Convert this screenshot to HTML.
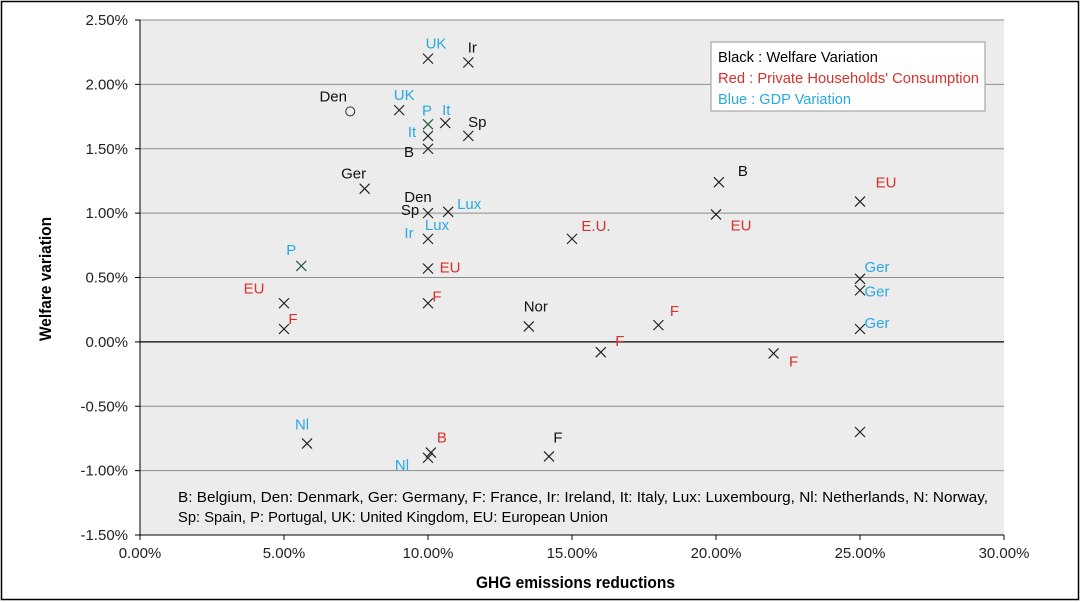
<!DOCTYPE html>
<html><head><meta charset="utf-8">
<style>
body{margin:0;background:#fff;}
svg{display:block;font-family:"Liberation Sans Narrow","Liberation Sans",sans-serif;}
</style></head>
<body>
<svg id="chart" width="1081" height="602" viewBox="0 0 1081 602">
<rect x="1.5" y="1.5" width="1077" height="598" fill="#fff" stroke="#000" stroke-width="1.5"/>
<rect x="140" y="20" width="864" height="515" fill="#ececec"/>
<g id="grid"></g>
<g id="axes"></g>
<g id="marks"></g>
<rect x="711" y="42" width="274" height="69" fill="#fff" stroke="#999"/>
<text x="718" y="62" font-size="15" fill="#000" textLength="160" lengthAdjust="spacingAndGlyphs">Black : Welfare Variation</text>
<text x="718" y="83" font-size="15" fill="#d8302b" textLength="261" lengthAdjust="spacingAndGlyphs">Red : Private Households' Consumption</text>
<text x="718" y="104" font-size="15" fill="#27a9e1" textLength="133" lengthAdjust="spacingAndGlyphs">Blue : GDP Variation</text>
<text x="178" y="502" font-size="14.5" textLength="810" lengthAdjust="spacingAndGlyphs">B: Belgium, Den: Denmark, Ger: Germany, F: France, Ir: Ireland, It: Italy, Lux: Luxembourg, Nl: Netherlands, N: Norway,</text>
<text x="178" y="522" font-size="14.5" textLength="430" lengthAdjust="spacingAndGlyphs">Sp: Spain, P: Portugal, UK: United Kingdom, EU: European Union</text>
<text x="476" y="588" font-size="17" font-weight="bold" textLength="199" lengthAdjust="spacingAndGlyphs">GHG emissions reductions</text>
<text transform="translate(51,341) rotate(-90)" font-size="17" font-weight="bold" textLength="124" lengthAdjust="spacingAndGlyphs">Welfare variation</text>
</svg>
<script>
const xTicks=[0,5,10,15,20,25,30];
const yTicks=[2.5,2.0,1.5,1.0,0.5,0,-0.5,-1.0,-1.5];
const ptX=[10,11.4,7.3,9.0,10,10.6,10,11.4,10,7.8,10,10.7,10,5.6,10,5.0,5.0,10,13.5,15.0,16.0,18.0,20.1,20.0,22.0,25,25,25,25,25,5.8,10.1,10,14.2];
const ptY=[2.20,2.17,1.79,1.80,1.69,1.70,1.60,1.60,1.50,1.19,1.00,1.01,0.80,0.59,0.57,0.30,0.10,0.30,0.12,0.80,-0.08,0.13,1.24,0.99,-0.09,1.09,0.49,0.40,0.10,-0.70,-0.79,-0.86,-0.90,-0.89];
const ptLabel=["UK","Ir","Den","UK","P","It","It","Sp","B","Ger","Den|Sp","Lux","Ir|Lux","P","EU","EU","F","F","Nor","E.U.","F","F","B","EU","F","EU","Ger","Ger","Ger","","Nl","B","Nl","F"];
const ptColor=["b","k","k","b","b","b","b","k","k","k","k|k","b","b|b","b","r","r","r","r","k","r","r","r","k","r","r","r","b","b","b","","b","r","b","k"];
const ptMarker=["x","x","o","x","g","x","x","x","x","x","x","x","x","g","x","x","x","x","x","x","x","x","x","x","x","x","x","x","x","x","x","x","x","x"];
const lblOff=[[8,-10],[4,-10],[-17,-10],[5,-10],[-1,-9],[1,-8],[-16,1],[9,-9],[-19,8],[-11,-10],[-10,-11,-18,2],[21,-3],[-19,-1,9,-9],[-10,-11],[22,4],[-30,-10],[9,-5],[9,-2],[7,-15],[24,-8],[19,-6],[16,-9],[24,-6],[25,16],[20,13],[26,-14],[17,-7],[17,6],[17,-1],[0,0],[-5,-14],[11,-10],[-26,12],[9,-14]];
const colors={k:"#111",r:"#d8302b",b:"#27a9e1"};
const NS="http://www.w3.org/2000/svg";
const X0=140,X1=1004,Y0=535,Y1=20;
const sx=v=>X0+(v-0)/30*(X1-X0);
const sy=v=>Y0-(v+1.5)/4*(Y0-Y1);
function mk(tag,attrs,parent){const e=document.createElementNS(NS,tag);for(const k in attrs)e.setAttribute(k,attrs[k]);parent.appendChild(e);return e;}
const grid=document.getElementById('grid'),axes=document.getElementById('axes'),marks=document.getElementById('marks');
yTicks.forEach(t=>{
  const y=sy(t);
  const l=mk('line',{x1:X0,x2:X1,y1:y,y2:y,stroke:t===0?'#000':'#8c8c8c','stroke-width':t===0?1.2:1},grid);
  
  
  const tk=mk('line',{x1:X0-5,x2:X0,y1:y,y2:y,stroke:'#000'},axes);
  
  
  const tx=mk('text',{x:X0-12,y:y+5,'font-size':15,'text-anchor':'end',fill:'#222'},axes);
  tx.textContent=t.toFixed(2)+'%';
  
  
});
xTicks.forEach(t=>{
  const x=sx(t);
  const tk=mk('line',{x1:x,x2:x,y1:Y0,y2:Y0+5,stroke:'#000'},axes);
  
  
  const tx=mk('text',{x:x,y:Y0+23,'font-size':15,'text-anchor':'middle',fill:'#222'},axes);
  tx.textContent=t.toFixed(2)+'%';
  
  
});
const ya=mk('line',{x1:X0,x2:X0,y1:Y1,y2:Y0,stroke:'#000'},axes);


const xa=mk('line',{x1:X0,x2:X1,y1:Y0,y2:Y0,stroke:'#000'},axes);


ptX.forEach((v,i)=>{
  const cx=sx(v),cy=sy(ptY[i]);
  let m;
  if(ptMarker[i]==='o'){
    m=mk('circle',{cx:cx,cy:cy,r:4.5,fill:'none',stroke:'#333','stroke-width':1},marks);
  }else{
    const c=ptMarker[i]==='g'?'#1d5a3a':'#222';
    m=mk('path',{d:`M${cx-5} ${cy-5}L${cx+5} ${cy+5}M${cx-5} ${cy+5}L${cx+5} ${cy-5}`,stroke:c,'stroke-width':1.2,fill:'none'},marks);
  }
  
  
  if(!ptLabel[i])return;
  const labs=ptLabel[i].split('|'),cols=ptColor[i].split('|'),o=lblOff[i];
  labs.forEach((lb,j)=>{
    const t=mk('text',{x:cx+o[j*2],y:cy+o[j*2+1],'font-size':15,'text-anchor':'middle',fill:colors[cols[j]]},marks);
    t.textContent=lb;
    
    
  });
});
</script>
</body></html>
